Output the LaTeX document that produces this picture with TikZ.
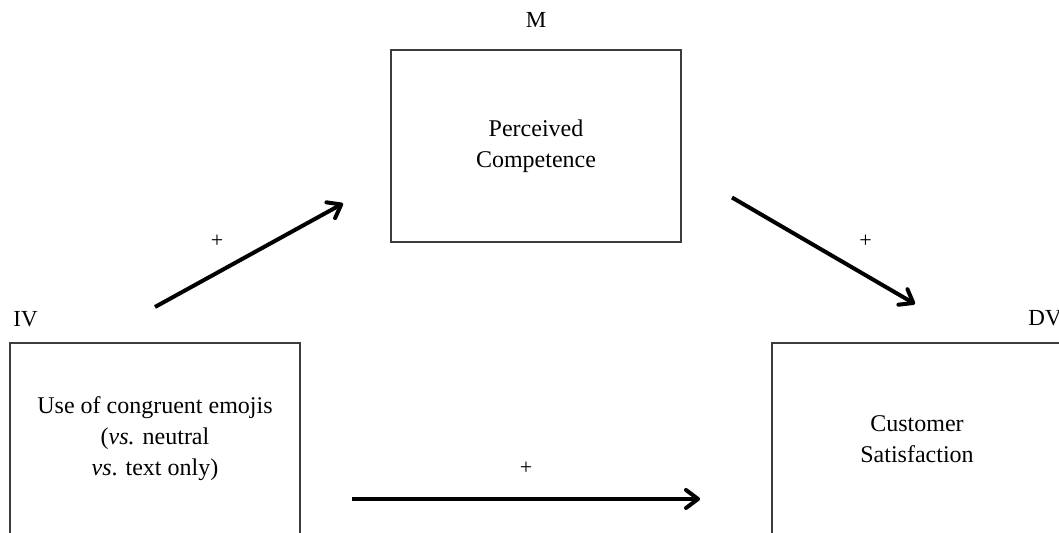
\documentclass[tikz,border=0pt]{standalone}
\usepackage{fontspec}
\setmainfont{Liberation Serif}
\usepackage{tikz}
\usetikzlibrary{arrows.meta,positioning}

\begin{document}
\begin{tikzpicture}[
    every node/.style={
        font=\fontsize{12}{15.5}\selectfont
    },
    box/.style={
        draw=boxline,
        line width=1pt,
        rectangle,
        align=center,
        minimum width=145pt,
        minimum height=96pt,
        inner sep=0pt,
        outer sep=0pt
    },
    arrow/.style={-{Straight Barb[length=6pt,width=9pt,round]}, line width=2pt},
    tag/.style={font=\fontsize{11.5}{14}\selectfont, inner sep=0pt},
    sign/.style={font=\fontsize{11}{13}\selectfont, inner sep=0pt}
]

%--- Color Definitions ---%
\definecolor{boxline}{RGB}{60,60,60}

\useasboundingbox (0,0) rectangle (529.5pt,266.5pt);

%-----------------------------------------------
% BOXES
%-----------------------------------------------
\node[box] at (77.5pt,47pt)
    (iv) {Use of congruent emojis\\(\textit{vs.} neutral\\\textit{vs}. text only)};

\node[box, above right=50.5pt and 45.5pt of iv]
    (m) {Perceived\\Competence};

\node[box, right=236pt of iv]
    (dv) {Customer\\Satisfaction};

%-----------------------------------------------
% ROLE LABELS
%-----------------------------------------------
\node[tag, anchor=south west] at ([xshift=1.5pt, yshift=8pt]iv.north west)
    (ivtag) {IV};
\node[tag, anchor=south] at ([yshift=11pt]m.north)
    (mtag) {M};
\node[tag, anchor=south west] at ([xshift=128pt, yshift=8.5pt]dv.north west)
    (dvtag) {DV};

%-----------------------------------------------
% ARROWS
%-----------------------------------------------
\draw[arrow] ([yshift=18pt]iv.north) -- ([xshift=-24pt, yshift=-28.75pt]m.west)
    node[sign, midway, xshift=-16pt, yshift=6.75pt] {+};
\draw[arrow] ([xshift=25.5pt, yshift=-25.75pt]m.east) -- ([xshift=-1pt, yshift=19.5pt]dv.north)
    node[sign, midway, xshift=21pt, yshift=4.75pt] {+};
\draw[arrow] ([xshift=26pt, yshift=-30pt]iv.east) -- ([xshift=-36pt, yshift=-30pt]dv.west)
    node[sign, midway, yshift=15.25pt] {+};

\end{tikzpicture}
\end{document}
